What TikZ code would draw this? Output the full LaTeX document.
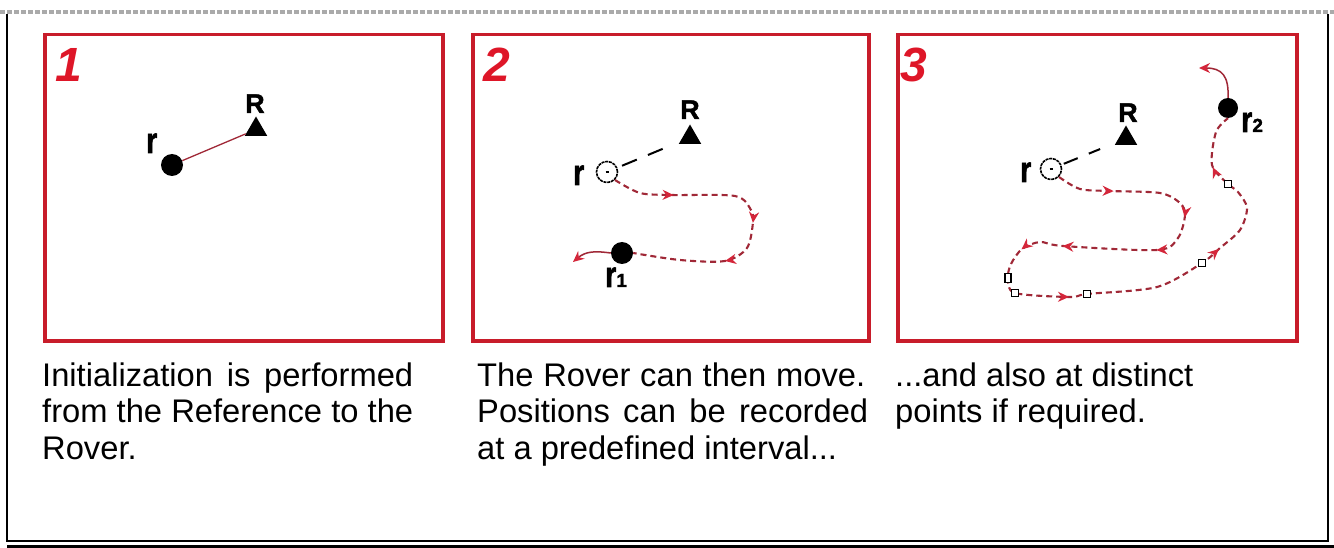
\documentclass[tikz,border=0pt]{standalone}
\usepackage{fontspec}
\usepackage{graphicx}
\setmainfont{Liberation Sans}
\newfontfamily\labelfont{Liberation Sans}[BoldFeatures={FakeBold=1.6}]
\usetikzlibrary{arrows.meta,decorations.markings,shapes.geometric}

\definecolor{boxred}{RGB}{200,28,42}
\definecolor{numred}{RGB}{222,22,40}
\definecolor{trailred}{RGB}{160,40,55}
\definecolor{tipred}{RGB}{212,38,58}
\definecolor{framegray}{RGB}{170,170,170}

% tall bold "r" used for the rover labels, and a small index digit
\newcommand\tallr{\scalebox{1.15}[1.45]{r}}
\newcommand\subidx[1]{{\fontsize{19}{19}\selectfont #1}}
\newcommand\trailtip{\arrow{Stealth[length=11pt,width=10pt,color=tipred]}}

\begin{document}
\begin{tikzpicture}[x=1pt,y=-1pt,
  panel/.style={draw=boxred, line width=3.5pt},
  stepnum/.style={text=numred, font=\bfseries\itshape\fontsize{48}{48}\selectfont, inner sep=0pt, anchor=base west},
  lbl/.style={font=\labelfont\bfseries\fontsize{25}{25}\selectfont, inner sep=0pt, anchor=base west},
  reflbl/.style={font=\labelfont\bfseries\fontsize{27}{27}\selectfont, inner sep=0pt, anchor=base west},
  base/.style={regular polygon, regular polygon sides=3, fill=black, minimum size=26pt, inner sep=0pt},
  rover/.style={circle, fill=black, minimum size=22pt, inner sep=0pt},
  startpos/.style={circle, draw=black, line width=1.6pt, dash pattern=on 3pt off 0.8pt, minimum size=21pt, inner sep=0pt},
  link/.style={draw=trailred, line width=1.3pt},
  refline/.style={draw=black, line width=2pt},
  trail/.style={draw=trailred, line width=2.1pt, dash pattern=on 6pt off 4pt},
  exitpath/.style={draw=trailred, line width=1.5pt, -{Stealth[length=11pt,width=10pt,color=tipred]}},
  rec/.style={rectangle, draw=black, fill=white, line width=1.3pt, minimum size=7pt, inner sep=0pt},
  caption/.style={font=\fontsize{32.7}{36.5}\selectfont, align=left, anchor=north west, inner sep=0pt}
]
\useasboundingbox (0,0) rectangle (1334,548);
\fill[white] (0,0) rectangle (1334,548);

% page frame
\draw[framegray, line width=4pt, dash pattern=on 5pt off 2pt] (0,12) -- (1334,12);
\draw[black, line width=1.8pt] (7,14) -- (7,541) -- (1328,541) -- (1328,14);
\fill[black] (7,545) rectangle (1334,548);

% the three panels
\draw[panel] (45,34.5) rectangle (443,341);
\draw[panel] (473,34.5) rectangle (869,341);
\draw[panel] (898,34.5) rectangle (1297,341);

\node[stepnum] (n1) at (55,82) {1};
\node[stepnum] (n2) at (483,82) {2};
\node[stepnum] (n3) at (900,82) {3};

% ---- panel 1: initialization
\node[base] (t1) at (256,129.5) {};
\node[reflbl] (R1) at (245,113) {R};
\node[rover] (d1) at (172,165) {};
\node[lbl] (rl1) at (146,153) {\tallr};
\draw[link] (d1) -- (t1);

% ---- panel 2: recording at a fixed interval
\node[base] (t2) at (690,137.5) {};
\node[reflbl] (R2) at (680,119) {R};
\node[startpos] (c2) at (607,172) {\rule{3pt}{1.4pt}};
\node[lbl] (rl2) at (573,185) {\tallr};
\draw[refline, dash pattern=on 16pt off 12pt, shorten <=5pt, shorten >=13pt] (c2) -- (t2);
\node[rover] (d2) at (622,253) {};
\node[lbl] (rl2b) at (605,287) {\tallr\subidx{1}};
\coordinate (s2) at (c2.-45);
\coordinate (e2) at (573,262);
\draw[trail, postaction={decorate}, decoration={markings,
    mark=at position 62pt with {\trailtip},
    mark=at position 159pt with {\trailtip},
    mark=at position 211pt with {\trailtip}}]
  plot[smooth, tension=0.5] coordinates {(s2) (640,193) (672,195) (735,196) (751,210) (753,222) (747,248) (725,261) (680,260) (d2.east)};
\draw[exitpath] (d2.west) .. controls (596,251) and (586,251) .. (e2);

% ---- panel 3: recording at distinct points
\node[base] (t3) at (1126,138.5) {};
\node[reflbl] (R3) at (1118,122) {R};
\node[startpos] (c3) at (1051,169) {\rule{3pt}{1.4pt}};
\node[lbl] (rl3) at (1020,182) {\tallr};
\draw[refline, dash pattern=on 15pt off 12pt, shorten <=2.5pt, shorten >=17pt] (c3) -- (t3);
\node[rover, minimum size=20pt] (d3) at (1228,108) {};
\node[lbl] (rl3b) at (1241,132) {\tallr\subidx{2}};
\coordinate (s3) at (c3.-45);
\coordinate (e3) at (1199,68);
\draw[trail, postaction={decorate}, decoration={markings,
    mark=at position 58pt with {\trailtip},
    mark=at position 143pt with {\trailtip},
    mark=at position 191pt with {\trailtip},
    mark=at position 285pt with {\trailtip},
    mark=at position 328pt with {\trailtip},
    mark=at position 433pt with {\trailtip},
    mark=at position 595pt with {\trailtip},
    mark=at position 701pt with {\trailtip}}]
  plot[smooth, tension=0.5] coordinates {(s3) (1080,189) (1110,191) (1160,193) (1180,203) (1185,215)
    (1178,238) (1157,250) (1063,246) (1040,242) (1022,249) (1011,264) (1008,278) (1015,293)
    (1070,297) (1087,294) (1157,287) (1202,263) (1220,248) (1240,230) (1247,208) (1238,192)
    (1228,184) (1212,165) (1216,132) (d3.south)};
\draw[exitpath] (d3.north) .. controls (1229,76) and (1222,68) .. (e3);
\node[rec, minimum width=6pt, minimum height=9pt] (q1) at (1008,278) {};
\node[rec] (q2) at (1015,293) {};
\node[rec] (q3) at (1087,294) {};
\node[rec] (q4) at (1202,263) {};
\node[rec] (q5) at (1228,184) {};

% ---- captions
\node[caption] (cap1) at (42,362.5) {\makebox[371pt][s]{Initialization is performed}\\\makebox[371pt][s]{from the Reference to the}\\Rover.};
\node[caption] (cap2) at (477,362.5) {\makebox[388pt][s]{The Rover can then move.}\\\makebox[391pt][s]{Positions can be recorded}\\at a predefined interval...};
\node[caption] (cap3) at (895,362.5) {...and also at distinct\\points if required.};
\end{tikzpicture}
\end{document}
